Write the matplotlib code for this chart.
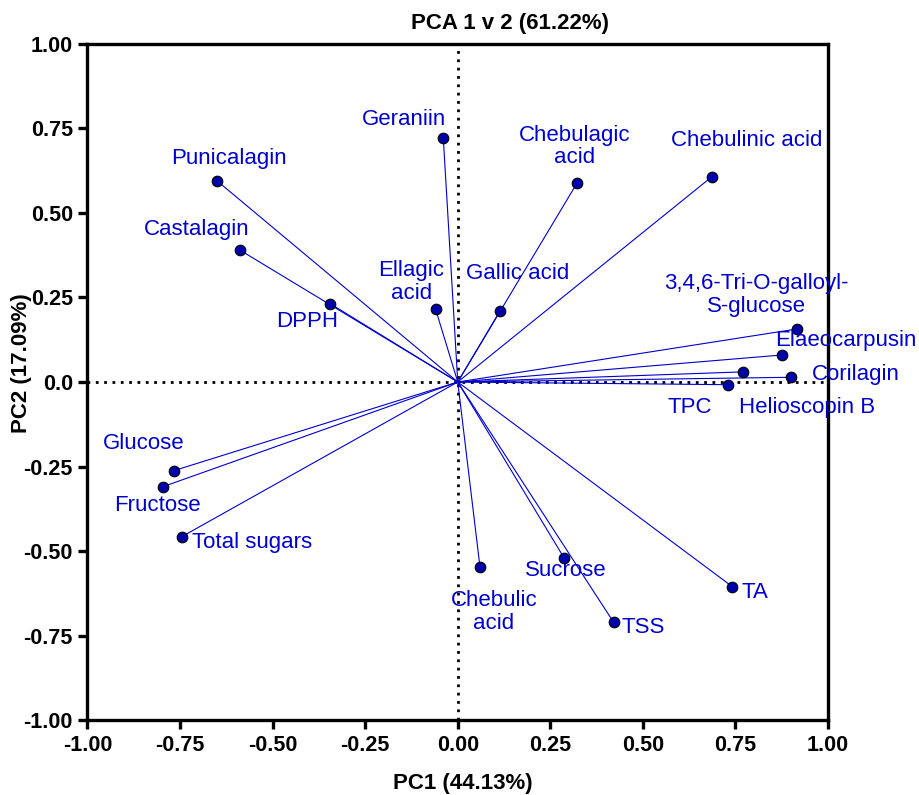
import matplotlib
matplotlib.use('Agg')
import matplotlib.pyplot as plt

plt.rcParams['font.family'] = ['Liberation Sans', 'DejaVu Sans']

# loadings (PC1, PC2)
names = ['Geraniin', 'Punicalagin', 'Castalagin', 'DPPH', 'Ellagic\nacid',
         'Gallic acid', 'Chebulagic\nacid', 'Chebulinic acid',
         '3,4,6-Tri-O-galloyl-\nS-glucose', 'Elaeocarpusin', 'Helioscopin B',
         'Corilagin', 'TPC', 'Glucose', 'Fructose', 'Total sugars',
         'Chebulic\nacid', 'Sucrose', 'TSS', 'TA']
pc1 = [-0.039, -0.650, -0.588, -0.345, -0.060, 0.114, 0.323, 0.686,
       0.917, 0.877, 0.771, 0.901, 0.731, -0.766, -0.797, -0.746,
       0.060, 0.288, 0.421, 0.741]
pc2 = [0.721, 0.595, 0.390, 0.232, 0.216, 0.210, 0.590, 0.607,
       0.157, 0.080, 0.030, 0.014, -0.008, -0.262, -0.310, -0.458,
       -0.547, -0.522, -0.711, -0.605]

# label offsets from each point, in pixels (dx right, dy up)
offs = [(-39, 19), (12, 22), (-43, 21), (-23, -18), (-24, 27),
        (18, 38), (-3, 36), (35, 36), (-41, 34), (63, 14), (64, -36),
        (64, 3), (-39, -23), (-30, 27), (-5, -19), (71, -6),
        (14, -45), (1, -12), (30, -5), (23, -6)]

xticks = [-1.0, -0.75, -0.5, -0.25, 0.0, 0.25, 0.5, 0.75, 1.0]
xtick_labels = ['-1.00', '-0.75', '-0.50', '-0.25', '0.00', '0.25', '0.50', '0.75', '1.00']
yticks = [-1.0, -0.75, -0.5, -0.25, 0.0, 0.25, 0.5, 0.75, 1.0]
ytick_labels = ['-1.00', '-0.75', '-0.50', '-0.25', '0.0', '0.25', '0.50', '0.75', '1.00']

blue = '#0000CC'

fig = plt.figure(figsize=(9.19, 7.95), dpi=100)
ax = fig.add_axes([0.0952, 0.0943, 0.8058, 0.8504])

ax.axhline(0, color='black', lw=2.0, dashes=(1, 2.0), dash_capstyle='butt', zorder=1)
ax.axvline(0, color='black', lw=2.0, dashes=(1, 2.0), dash_capstyle='butt', zorder=1)

for x, y in zip(pc1, pc2):
    ax.plot([0, x], [0, y], color=blue, lw=0.8, zorder=2)
ax.scatter(pc1, pc2, s=58, color='#0000AA', edgecolor='black', linewidth=0.8, zorder=3)

for n, x, y, (dx, dy) in zip(names, pc1, pc2, offs):
    ax.annotate(n, (x, y), xytext=(dx * 0.72, dy * 0.72), textcoords='offset points',
                ha='center', va='center', color=blue, fontsize=16,
                linespacing=1.1, zorder=4, annotation_clip=False)

ax.set_xlim(-1, 1)
ax.set_ylim(-1, 1)
ax.set_xticks(xticks)
ax.set_xticklabels(xtick_labels)
ax.set_yticks(yticks)
ax.set_yticklabels(ytick_labels)
for s in ax.spines.values():
    s.set_linewidth(2.4)
ax.tick_params(width=2.4, length=6.5, pad=4, labelsize=15.5)
for lab in ax.get_xticklabels() + ax.get_yticklabels():
    lab.set_fontweight('bold')

fig.text(510 / 919, 1 - 24 / 795, 'PCA 1 v 2 (61.22%)', ha='center', va='center',
         fontsize=16, fontweight='bold')
fig.text(463 / 919, 1 - 783 / 795, 'PC1 (44.13%)', ha='center', va='center',
         fontsize=16, fontweight='bold')
fig.text(22 / 919, 1 - 363 / 795, 'PC2 (17.09%)', ha='center', va='center',
         fontsize=16, fontweight='bold', rotation=90)

fig.savefig('out.png', dpi=100)
